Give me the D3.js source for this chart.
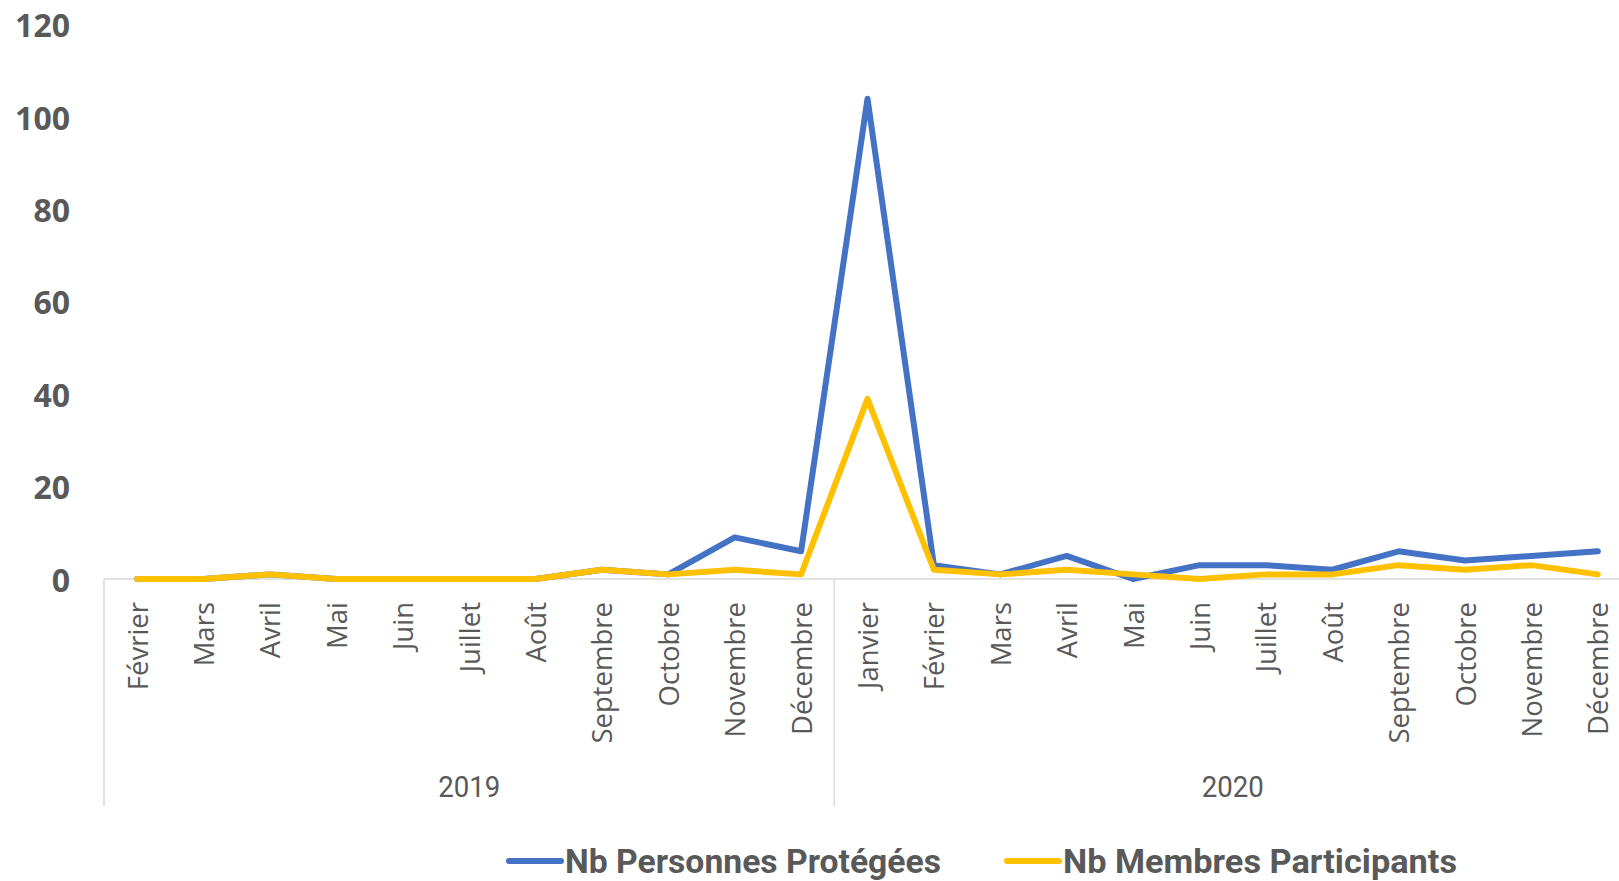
<!DOCTYPE html>
<html>
<head>
<meta charset="utf-8">
<script src="https://cdn.jsdelivr.net/npm/d3@7"></script>
<style>
  html, body { margin: 0; padding: 0; background: #fff; overflow: hidden; }
</style>
</head>
<body>
<div id="chart"></div>
<script>
const years = ['2019', '2020'];
const months2019 = ['Février', 'Mars', 'Avril', 'Mai', 'Juin', 'Juillet', 'Août', 'Septembre', 'Octobre', 'Novembre', 'Décembre'];
const months2020 = ['Janvier', 'Février', 'Mars', 'Avril', 'Mai', 'Juin', 'Juillet', 'Août', 'Septembre', 'Octobre', 'Novembre', 'Décembre'];
const personnesProtegees = [0, 0, 1, 0, 0, 0, 0, 2, 1, 9, 6, 104, 3, 1, 5, 0, 3, 3, 2, 6, 4, 5, 6];
const membresParticipants = [0, 0, 1, 0, 0, 0, 0, 2, 1, 2, 1, 39, 2, 1, 2, 1, 0, 1, 1, 3, 2, 3, 1];
const yTicks = [0, 20, 40, 60, 80, 100, 120];

const width = 1619;
const height = 881;

// categories : un mois = une bande, groupés par année
const cats = months2019.map((m) => ({ year: '2019', month: m }))
  .concat(months2020.map((m) => ({ year: '2020', month: m })));
cats.forEach((d, i) => { d.key = d.year + '-' + d.month; d.i = i; });

const left = 104;
const right = 1631; // dépasse légèrement la fenêtre, comme l'original
const yZero = 579;
const yTop = 24.8;

const x = d3.scaleBand().domain(cats.map((d) => d.key)).range([left, right]).padding(0);
const y = d3.scaleLinear().domain([0, 120]).range([yZero, yTop]);

const svg = d3.select('#chart')
  .append('svg')
  .attr('width', width)
  .attr('height', height);

const grey = '#595959';
const lineGrey = '#d9d9d9';

// étiquettes de l'axe Y (pas de grille)
svg.append('g')
  .selectAll('text')
  .data(yTicks)
  .join('text')
  .attr('x', 70)
  .attr('y', (d) => y(d))
  .attr('text-anchor', 'end')
  .attr('dominant-baseline', 'central')
  .attr('font-family', 'Open Sans')
  .attr('font-weight', 'bold')
  .attr('font-size', 32)
  .attr('fill', grey)
  .text((d) => d);

// axe X
svg.append('line')
  .attr('x1', left).attr('x2', right)
  .attr('y1', yZero).attr('y2', yZero)
  .attr('stroke', lineGrey).attr('stroke-width', 1.5);

// séparateurs d'années
const yearBounds = years.map((yr) => {
  const sub = cats.filter((d) => d.year === yr);
  return { year: yr, x0: x(sub[0].key), x1: x(sub[sub.length - 1].key) + x.bandwidth() };
});
svg.append('g')
  .selectAll('line')
  .data(yearBounds.map((d) => d.x0).concat([right]))
  .join('line')
  .attr('x1', (d) => d).attr('x2', (d) => d)
  .attr('y1', yZero).attr('y2', 806)
  .attr('stroke', lineGrey).attr('stroke-width', 1.5);

// mois (texte vertical)
svg.append('g')
  .selectAll('text')
  .data(cats)
  .join('text')
  .attr('transform', (d) => `translate(${x(d.key) + x.bandwidth() / 2},602) rotate(-90)`)
  .attr('text-anchor', 'end')
  .attr('dominant-baseline', 'central')
  .attr('font-family', 'Open Sans')
  .attr('font-size', 27.5)
  .attr('fill', grey)
  .text((d) => d.month);

// années (police étroite type Calibri, simulée avec textLength)
svg.append('g')
  .selectAll('text')
  .data(yearBounds)
  .join('text')
  .attr('x', (d) => (d.x0 + d.x1) / 2 - 31)
  .attr('y', 787)
  .attr('dominant-baseline', 'central')
  .attr('font-family', 'Roboto')
  .attr('font-size', 29)
  .attr('textLength', 62)
  .attr('lengthAdjust', 'spacingAndGlyphs')
  .attr('fill', grey)
  .text((d) => d.year);

// séries
const series = [
  { name: 'Nb Personnes Protégées', values: personnesProtegees, color: '#4472C4', textW: 376 },
  { name: 'Nb Membres Participants', values: membresParticipants, color: '#FFC000', textW: 394 }
];

const line = d3.line()
  .x((d, i) => x(cats[i].key) + x.bandwidth() / 2)
  .y((d) => y(d));

svg.append('g')
  .selectAll('path')
  .data(series)
  .join('path')
  .attr('d', (d) => line(d.values))
  .attr('fill', 'none')
  .attr('stroke', (d) => d.color)
  .attr('stroke-width', 6)
  .attr('stroke-linejoin', 'round')
  .attr('stroke-linecap', 'round');

// légende
const legendX = [509, 1007];
const legend = svg.append('g')
  .selectAll('g')
  .data(series)
  .join('g')
  .attr('transform', (d, i) => `translate(${legendX[i]},861)`);

legend.append('line')
  .attr('x1', 0).attr('x2', 52)
  .attr('y1', 0).attr('y2', 0)
  .attr('stroke', (d) => d.color)
  .attr('stroke-width', 6)
  .attr('stroke-linecap', 'round');

legend.append('text')
  .attr('x', 56)
  .attr('y', 0)
  .attr('dominant-baseline', 'central')
  .attr('font-family', 'Roboto')
  .attr('font-weight', 'bold')
  .attr('font-size', 34)
  .attr('textLength', (d) => d.textW)
  .attr('lengthAdjust', 'spacingAndGlyphs')
  .attr('fill', grey)
  .text((d) => d.name);
</script>
</body>
</html>
